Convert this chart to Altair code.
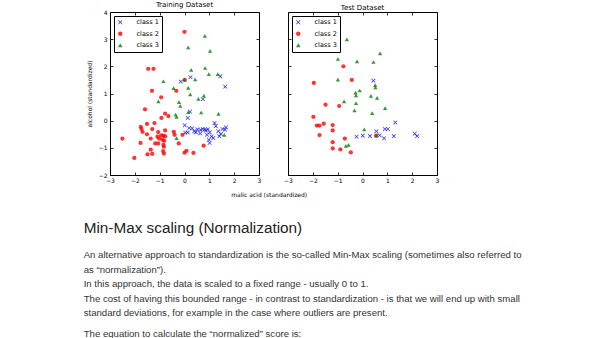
import altair as alt
import pandas as pd

classes = ["class 1", "class 2", "class 3"]
class_colors = ["#0000ff", "#ff0000", "#008000"]

# ---- Training dataset (standardized malic acid, alcohol) ----
train_c1_x = [-0.15, 0.24, 1.44, 1.64, 0.74, 0.22, 0.13, 0.01, 0.03, 0.19, 0.31, 0.39, 0.52, 0.65, 0.73,
              0.82, 0.86, 0.94, 1.02, 0.63, 0.90, 1.09, 0.98, 1.01, 1.21, 1.26, 1.36, 1.47, 1.53, 1.63,
              1.67, 1.40, 0.46, 0.13, 1.16]
train_c1_y = [1.44, 1.60, 1.63, 1.25, 0.79, 0.33, 0.10, -0.17, -0.44, -0.27, -0.28, -0.39, -0.32, -0.34, -0.31,
              -0.32, -0.37, -0.32, -0.43, -0.47, -0.52, -0.58, -0.70, -0.82, -0.09, -0.20, -0.39, -0.49, -0.31, -0.33,
              -0.25, -0.57, -0.43, -0.43, -0.64]
train_c2_x = [0.00, -1.46, -1.25, 0.01, -1.31, -0.33, -0.94, -1.59, -0.65, -0.78, -0.93, -1.76, -1.73, -1.51, -1.21,
              -1.69, -1.30, -1.51, -1.06, -0.78, -0.43, -0.40, -2.50, -1.36, -1.09, -0.94, -0.85, -0.78, -1.02, -0.89,
              -1.77, -1.18, -1.06, -0.82, -0.85, -0.83, -0.23, -1.36, -1.49, -1.30, -0.86, -0.83, -2.02, 0.00, 0.08,
              0.36, -0.08, 0.77]
train_c2_y = [3.27, 1.91, 1.91, 1.50, 1.10, 1.10, 0.86, 0.42, 0.17, 0.26, 0.10, -0.23, -0.31, -0.12, -0.09,
              -0.41, -0.31, -0.50, -0.42, -0.36, -0.41, -0.52, -0.66, -0.66, -0.59, -0.54, -0.55, -0.58, -0.66, -0.70,
              -0.82, -0.84, -0.84, -0.74, -0.89, -0.96, -0.84, -1.07, -1.24, -1.22, -1.12, -1.21, -1.37, -1.18, -1.11,
              -1.19, -0.52, -0.92]
train_c3_x = [0.82, 0.15, 1.03, 0.27, 0.83, 0.98, 0.43, 0.00, -0.85, 1.34, -0.44, 0.15, 0.23, -1.05, -0.22,
              -0.17, 0.56, 0.78, -0.32, -0.36, 0.15, 0.67, 1.37, 1.60, -0.32]
train_c3_y = [3.12, 2.70, 2.57, 1.87, 1.94, 1.71, 1.52, 1.51, 1.45, 1.71, 1.20, 1.21, 0.97, 0.71, 0.68,
              0.54, 0.80, 0.92, 0.14, 0.22, 0.31, 0.30, 0.25, -0.52, -0.64]

# ---- Test dataset ----
test_c1_x = [0.44, 1.32, 0.90, 1.02, -0.24, 0.01, 0.30, 0.56, 0.69, 0.87, 1.26, 2.10, 2.20]
test_c1_y = [1.47, -0.07, -0.31, -0.31, -0.59, -0.55, -0.57, -0.39, -0.54, -0.65, -0.57, -0.48, -0.57]
test_c2_x = [-0.77, -0.43, -1.96, -1.49, -0.94, -1.98, -1.84, -1.73, -1.56, -1.20, -1.20, -1.73, -0.71, -1.20,
             -1.20, -0.89, -0.47, 0.55]
test_c2_y = [2.00, 1.50, 1.39, 0.59, 0.54, 0.14, -0.18, -0.18, -0.11, -0.16, -0.36, -0.53, -0.66, -0.79,
             -1.02, -1.06, -1.17, -0.55]
test_c3_x = [-0.63, 0.71, -0.99, -0.22, 0.44, -0.99, 0.51, -0.28, -0.26, -0.11, 0.52, 0.34, 0.59, -0.74,
             -0.26, -0.32, 0.91, 0.39, 0.07, 0.55, -0.56, -0.67]
test_c3_y = [2.99, 2.48, 2.27, 2.18, 2.16, 1.51, 1.31, 1.03, 0.93, 1.11, 1.22, 0.91, 0.84, 0.71,
             0.64, 0.38, 0.46, 0.28, -0.32, -0.55, -0.89, -0.93]

x_ticks = [-3, -2, -1, 0, 1, 2, 3]
y_ticks = [-2, -1, 0, 1, 2, 3, 4]

panel_titles = ["Training Dataset", "Test Dataset"]
x_title = "malic acid (standardized)"
y_title = "alcohol (standardized)"

heading_text = "Min-Max scaling (Normalization)"
paragraph_lines = [
    "An alternative approach to standardization is the so-called Min-Max scaling (sometimes also referred to",
    "as \u201cnormalization\u201d).",
    "In this approach, the data is scaled to a fixed range - usually 0 to 1.",
    "The cost of having this bounded range - in contrast to standardization - is that we will end up with small",
    "standard deviations, for example in the case where outliers are present.",
    "The equation to calculate the \u201cnormalized\u201d score is:",
]


def make_frame(xs_list, ys_list):
    rows = []
    for cls, xs, ys in zip(classes, xs_list, ys_list):
        for xv, yv in zip(xs, ys):
            rows.append({"malic": xv, "alcohol": yv, "cls": cls})
    return pd.DataFrame(rows)


train_df = make_frame([train_c1_x, train_c2_x, train_c3_x], [train_c1_y, train_c2_y, train_c3_y])
test_df = make_frame([test_c1_x, test_c2_x, test_c3_x], [test_c1_y, test_c2_y, test_c3_y])

X_PATH = ("M-1,-0.75L-0.75,-1L0,-0.25L0.75,-1L1,-0.75L0.25,0L1,0.75L0.75,1"
          "L0,0.25L-0.75,1L-1,0.75L-0.25,0Z")

W, H = 149, 163
TICK = 3
AX_FONT = "DejaVu Sans"

xscale = alt.Scale(domain=[-3, 3], nice=False, zero=False)
yscale = alt.Scale(domain=[-2, 4], nice=False, zero=False)

leg = alt.Legend(title=None, orient="top-left", offset=4)


def panel(df, title, show_ylabels, show_xtitle):
    xaxis_kw = dict(orient="bottom", values=x_ticks, offset=-TICK, tickSize=TICK, labelPadding=2,
                    labelFlush=False, labelOverlap=False, domain=False, grid=False, format="d")
    if show_xtitle:
        xaxis_kw.update(title=x_title, titleX=W + 9.7, titleY=24.2, titleAlign="center",
                        titleBaseline="alphabetic")
    else:
        xaxis_kw.update(title=None)
    yaxis_kw = dict(orient="left", values=y_ticks, offset=-TICK, tickSize=TICK, labelPadding=3,
                    labelFlush=False, labelOverlap=False, domain=False, grid=False, format="d")
    if show_ylabels:
        yaxis_kw.update(title=y_title, titleX=-23.3, titleBaseline="middle", titleAngle=-90)
    else:
        yaxis_kw.update(title=None, labels=False)

    pts = alt.Chart(df).mark_point(filled=True, opacity=0.8, size=18, strokeWidth=0).encode(
        x=alt.X("malic:Q", scale=xscale, axis=alt.Axis(**xaxis_kw)),
        y=alt.Y("alcohol:Q", scale=yscale, axis=alt.Axis(**yaxis_kw)),
        color=alt.Color("cls:N", scale=alt.Scale(domain=classes, range=class_colors), legend=leg),
        shape=alt.Shape("cls:N", scale=alt.Scale(domain=classes, range=[X_PATH, "circle", "triangle-up"]),
                        legend=leg),
    )
    ticks = alt.Chart(df).mark_point(opacity=0).encode(
        x=alt.X("malic:Q", scale=xscale,
                axis=alt.Axis(orient="top", values=x_ticks, offset=-TICK, tickSize=TICK, labels=False,
                              domain=False, grid=False, title=None)),
        y=alt.Y("alcohol:Q", scale=yscale,
                axis=alt.Axis(orient="right", values=y_ticks, offset=-TICK, tickSize=TICK, labels=False,
                              domain=False, grid=False, title=None)),
    )
    return [pts, ticks], alt.TitleParams(title, fontSize=7, font=AX_FONT, fontWeight="normal",
                                         color="black", offset=1)


left_layers, left_title = panel(train_df, panel_titles[0], True, True)
right_layers, right_title = panel(test_df, panel_titles[1], False, False)

# page text below the figure (positions relative to the left panel's plot area)
TEXT_X = -26.3
text_layers = [
    alt.Chart(pd.DataFrame({"t": [heading_text]})).mark_text(
        align="left", baseline="alphabetic", font="Liberation Sans", fontSize=15.3, color="#222222"
    ).encode(text="t:N", x=alt.value(TEXT_X), y=alt.value(220.8))
]
line_y = [246.0, 261.0, 275.2, 290.2, 303.6, 325.4]
for line, ly in zip(paragraph_lines, line_y):
    text_layers.append(
        alt.Chart(pd.DataFrame({"t": [line]})).mark_text(
            align="left", baseline="alphabetic", font="Liberation Sans", fontSize=9.6, color="#333333"
        ).encode(text="t:N", x=alt.value(TEXT_X), y=alt.value(ly))
    )

left = alt.layer(*left_layers, *text_layers).resolve_axis(x="independent", y="independent").properties(
    width=W, height=H, title=left_title)
right = alt.layer(*right_layers).resolve_axis(x="independent", y="independent").properties(
    width=W, height=H, title=right_title)

chart = alt.hconcat(left, right, spacing=29, bounds="flush").resolve_scale(
    color="independent", shape="independent"
).properties(
    padding={"left": 83, "top": 0, "right": 0, "bottom": 0},
    background="white",
).configure_view(
    stroke="black", strokeWidth=1
).configure_axis(
    labelFont=AX_FONT, labelFontSize=6, labelColor="black", tickColor="black", tickWidth=0.8,
    titleFont=AX_FONT, titleFontSize=6, titleColor="black", titleFontWeight="normal"
).configure_legend(
    strokeColor="black", strokeWidth=1, fillColor="white", padding=3, cornerRadius=0,
    labelFont=AX_FONT, labelFontSize=6.5, labelColor="black", labelOffset=13,
    symbolSize=20, rowPadding=4.5, symbolStrokeWidth=0
)

chart.save("out.html", embed_options={"renderer": "svg", "actions": False})
